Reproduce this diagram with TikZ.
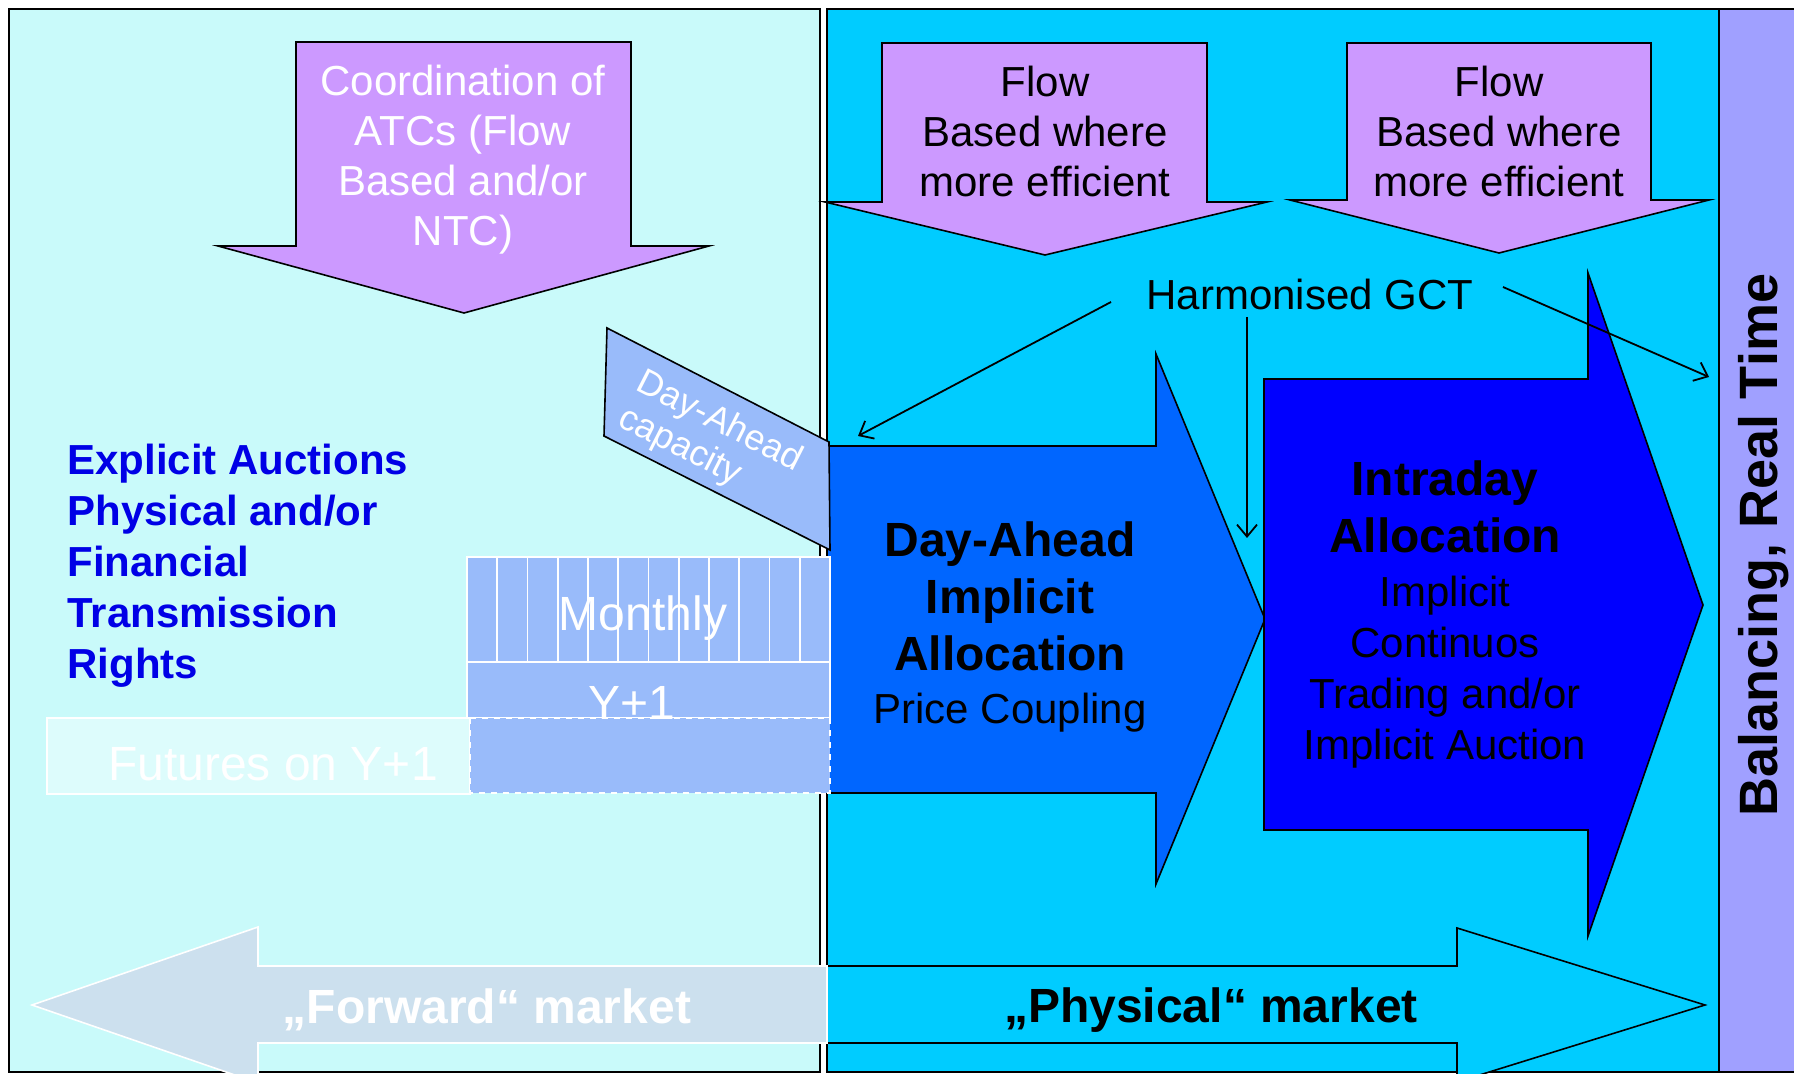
\documentclass[tikz,border=0pt]{standalone}
\usepackage{fontspec}
\setmainfont{Liberation Sans}
\usetikzlibrary{arrows.meta}
\definecolor{leftbg}{HTML}{C9FAFA}
\definecolor{rightbg}{HTML}{00CCFF}
\definecolor{rtbg}{HTML}{A0A0FF}
\definecolor{lilac}{HTML}{CC99FF}
\definecolor{dablue}{HTML}{0066FF}
\definecolor{idblue}{HTML}{0000FF}
\definecolor{capblue}{HTML}{99BBFA}
\definecolor{fwdgrey}{HTML}{CCE0EE}
\definecolor{futbg}{HTML}{DDFCFC}
\definecolor{expblue}{HTML}{0000E6}

\begin{document}
\begin{tikzpicture}[x=0.5pt, y=-0.5pt,
 panel/.style={draw=black, line width=0.6pt},
 blockarrow/.style={draw=black, line width=0.8pt},
 txt/.style={inner sep=0pt, align=center, font=\fontsize{21}{25}\selectfont},
 boldtxt/.style={inner sep=0pt, align=center, font=\bfseries\fontsize{24}{28.5}\selectfont},
 whitetxt/.style={inner sep=0pt, align=center, text=white, font=\fontsize{24}{28}\selectfont},
 gctarrow/.style={-{Straight Barb[length=6pt,width=10pt]}, line width=0.9pt}]

\clip (0,0) rectangle (1794,1074);
\fill[white] (0,0) rectangle (1794,1074);

% panels
\draw[panel, fill=leftbg] (9,9) rectangle (820,1072);
\draw[panel, fill=rightbg] (827,9) rectangle (1719,1072);
\draw[panel, fill=rtbg] (1719,9) rectangle (1800,1072);

% capacity calculation arrows
\draw[blockarrow, fill=lilac] (296,42) -- (631,42) -- (631,246) -- (709,246) -- (464,313) -- (218,246) -- (296,246) -- cycle;
\draw[blockarrow, fill=lilac] (882,43) -- (1207,43) -- (1207,202) -- (1267,202) -- (1045,255) -- (825,202) -- (882,202) -- cycle;
\draw[blockarrow, fill=lilac] (1347,43) -- (1651,43) -- (1651,200) -- (1709,200) -- (1499,253) -- (1290,200) -- (1347,200) -- cycle;

\node[txt, text=white] (coord) at (463,160) {Coordination of\\ATCs (Flow\\Based and/or\\NTC)};
\node[txt] (flowDA) at (1045,131) {Flow\\Based where\\more efficient};
\node[txt] (flowID) at (1499,131) {Flow\\Based where\\more efficient};

% market arrows
\draw[blockarrow, fill=rightbg] (827,966) -- (1457,966) -- (1457,928) -- (1705,1005) -- (1457,1082) -- (1457,1043) -- (827,1043) -- cycle;
\draw[draw=white, line width=0.8pt, fill=fwdgrey] (827,966) -- (258,966) -- (258,927) -- (32,1005) -- (258,1083) -- (258,1043) -- (827,1043) -- cycle;
\node[boldtxt, text=white] (fwd) at (487,1010) {„Forward“ market};
\node[boldtxt] (phys) at (1211,1010) {„Physical“ market};

% allocation arrows
\draw[blockarrow, fill=dablue] (827,446) -- (1156,446) -- (1156,354) -- (1265,619) -- (1156,884) -- (1156,793) -- (827,793) -- cycle;
\draw[blockarrow, fill=idblue] (1264,379) -- (1588,379) -- (1588,273) -- (1703,605) -- (1588,936) -- (1588,830) -- (1264,830) -- cycle;

\node[boldtxt] (daTitle) at (1010,596) {Day-Ahead\\Implicit\\Allocation};
\node[txt] (daSub) at (1010,713) {Price Coupling};
\node[boldtxt] (idTitle) at (1445,507) {Intraday\\Allocation};
\node[txt, font=\fontsize{21}{25.5}\selectfont] (idSub) at (1445,672) {Implicit\\Continuos\\Trading and/or\\Implicit Auction};

% long term products
\draw[white, line width=0.8pt, fill=futbg] (47,718) rectangle (470,794);
\draw[white, line width=0.8pt, fill=capblue] (467,557) rectangle (830,662);
\foreach \i in {1,...,11}
  \draw[white, line width=0.8pt] ({467+\i*30.25},557) -- ({467+\i*30.25},662);
\draw[white, line width=0.8pt, fill=capblue] (467,662) rectangle (830,718);
\draw[white, line width=0.8pt, dashed, fill=capblue] (470,718) rectangle (830,793);

\node[whitetxt] (monthly) at (643,618) {Monthly};
\node[whitetxt] (y1) at (632,703) {Y+1};
\node[whitetxt] (futures) at (273,764) {Futures on Y+1};

\node[inner sep=0pt, align=left, anchor=west, text=expblue, font=\bfseries\fontsize{21}{25.5}\selectfont] (explicit) at (67,566) {Explicit Auctions\\Physical and/or\\Financial\\Transmission\\Rights};

% day-ahead capacity
\draw[line width=0.8pt, fill=capblue] (607,328) -- (829,442) -- (830,550) -- (604,436) -- cycle;
\node[inner sep=0pt, align=left, text=white, rotate=-27, font=\fontsize{18}{20}\selectfont] (dacap) at (710,440) {Day-Ahead\\capacity};

% gate closure
\node[txt] (gct) at (1310,294) {Harmonised GCT};
\coordinate (gctL) at (1111,302);
\coordinate (gctM) at (1247,317);
\coordinate (gctR) at (1503,287);
\coordinate (daIn) at (858,436);
\coordinate (idIn) at (1247,538);
\coordinate (rtIn) at (1709,377);
\draw[gctarrow] (gctL) -- (daIn);
\draw[gctarrow] (gctM) -- (idIn);
\draw[gctarrow] (gctR) -- (rtIn);

\node[inner sep=0pt, rotate=90, font=\bfseries\fontsize{27}{30}\selectfont] (balancing) at (1764,545) {Balancing, Real Time};

\end{tikzpicture}
\end{document}
